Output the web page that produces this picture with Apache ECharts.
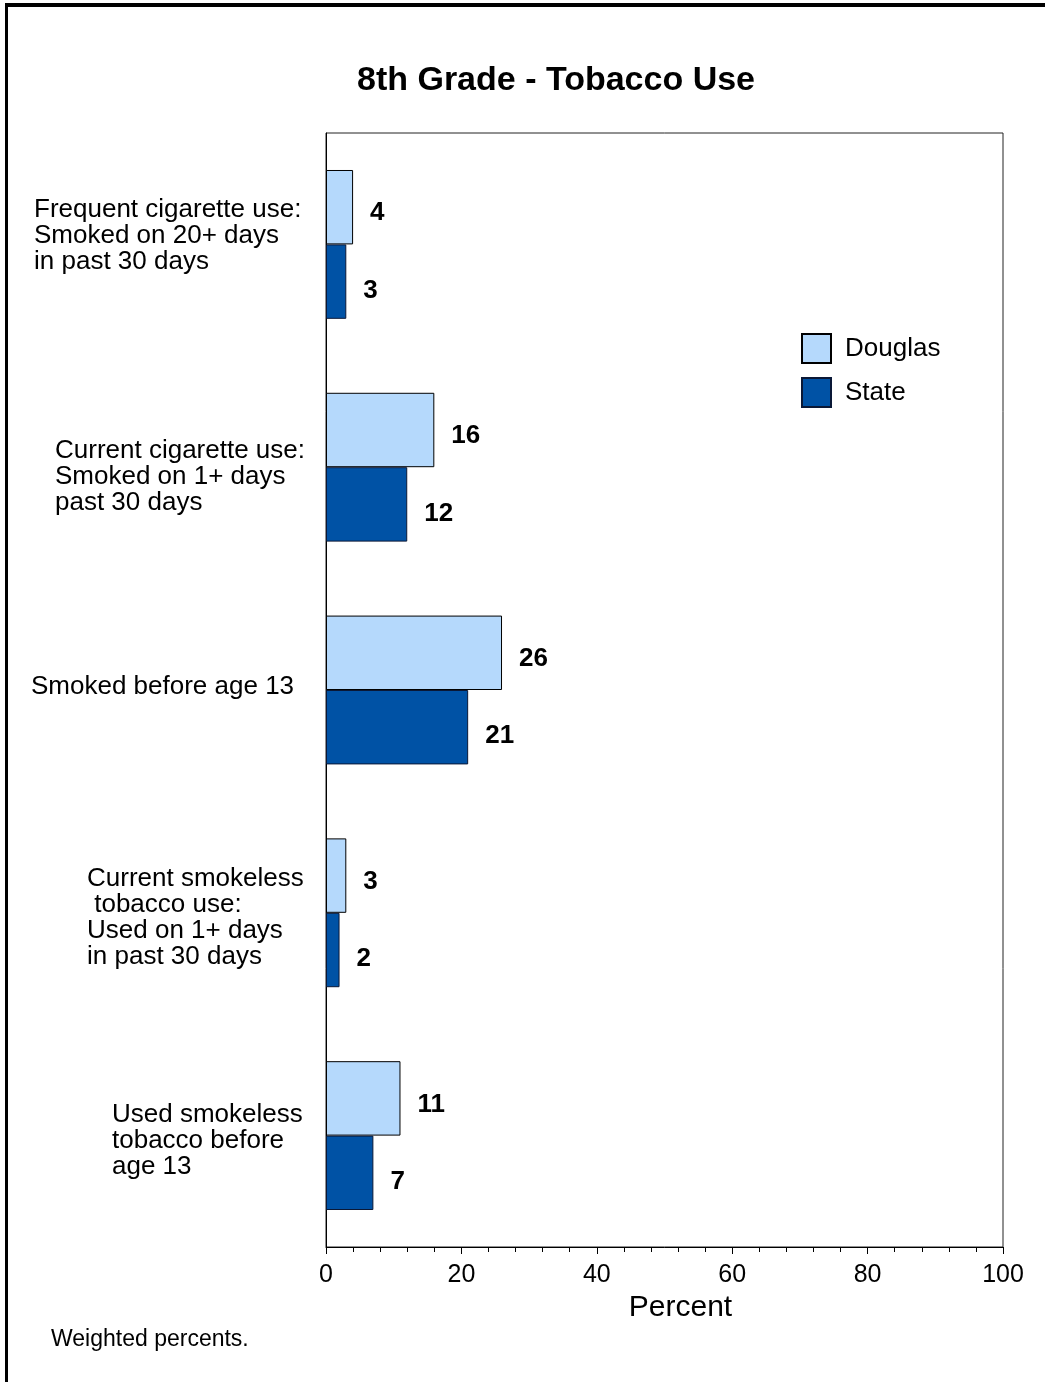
<!DOCTYPE html>
<html>
<head>
<meta charset="utf-8">
<script src="https://cdn.jsdelivr.net/npm/echarts@6/dist/echarts.min.js"></script>
<style>
  html, body { margin: 0; padding: 0; background: #fff; }
  #frame { position: absolute; left: 5px; top: 3px; width: 1045px; height: 1376px;
           border-top: 4px solid #000; border-left: 3px solid #000; border-bottom: 2px solid #ddd; }
  #chart { position: absolute; left: 0; top: 0; width: 1045px; height: 1382px; }
</style>
</head>
<body>
<div id="frame"></div>
<div id="chart"></div>
<script>
const categories = [
  'Frequent cigarette use:\nSmoked on 20+ days\nin past 30 days',
  'Current cigarette use:\nSmoked on 1+ days\npast 30 days',
  'Smoked before age 13',
  'Current smokeless\n tobacco use:\nUsed on 1+ days\nin past 30 days',
  'Used smokeless\ntobacco before\nage 13'
];
const seriesNames = ['Douglas', 'State'];
const douglasValues = [4, 16, 26, 3, 11];
const stateValues = [3, 12, 21, 2, 7];
const titleText = '8th Grade - Tobacco Use';
const axisTitle = 'Percent';
const footnote = 'Weighted percents.';

// label layout helpers (text placement only): block width and vertical nudge
const labelBlockWidth = [276, 255, 279, 223, 198];
const labelNudge = [-9, 10, -3, 5, 5];

const FONT = '"Liberation Sans", Arial, sans-serif';
const chart = echarts.init(document.getElementById('chart'), null, { renderer: 'canvas' });

const rich = {};
labelBlockWidth.forEach((w, i) => {
  rich['c' + i] = { width: w, align: 'left', fontFamily: FONT, fontSize: 26, lineHeight: 26, color: '#000' };
});
labelNudge.forEach((d, i) => {
  rich['s' + i] = { height: Math.abs(d) * 2, lineHeight: Math.abs(d) * 2, fontSize: 2 };
});

function catLabel(value, index) {
  const lines = String(value).split('\n').map(l => '{c' + index + '|' + l + '}');
  const d = labelNudge[index];
  if (d < 0) lines.push('{s' + index + '| }');
  else if (d > 0) lines.unshift('{s' + index + '| }');
  return lines.join('\n');
}

const option = {
  backgroundColor: 'transparent',
  animation: false,
  textStyle: { fontFamily: FONT, color: '#000' },
  title: [
    { text: titleText, left: 357, top: 64, padding: 0,
      textStyle: { fontFamily: FONT, fontSize: 34, fontWeight: 'bold', color: '#000' } },
    { text: footnote, left: 51, top: 1328, padding: 0,
      textStyle: { fontFamily: FONT, fontSize: 23, fontWeight: 'normal', color: '#000' } }
  ],
  legend: {
    orient: 'vertical', left: 801, top: 333, padding: 0,
    itemWidth: 29, itemHeight: 29, itemGap: 13,
    icon: 'rect',
    textStyle: { fontFamily: FONT, fontSize: 26, color: '#000', padding: [0, 0, 0, 9] },
    data: seriesNames
  },
  grid: {
    left: 326, right: 42, top: 133, bottom: 135,
    show: true, borderColor: '#222', borderWidth: 1, backgroundColor: 'transparent',
    outerBoundsMode: 'none'
  },
  xAxis: {
    type: 'value', min: 0, max: 100, interval: 20,
    name: axisTitle, nameLocation: 'middle', nameGap: 44,
    nameTextStyle: { fontFamily: FONT, fontSize: 30, color: '#000', padding: [0, 0, 0, 32] },
    axisLine: { show: true, lineStyle: { color: '#000', width: 1 } },
    axisTick: { show: true, length: 7, lineStyle: { color: '#000' } },
    minorTick: { show: true, splitNumber: 5, length: 5, lineStyle: { color: '#000' } },
    splitLine: { show: false },
    axisLabel: { fontFamily: FONT, fontSize: 25, color: '#000', margin: 16 }
  },
  yAxis: {
    type: 'category', inverse: true,
    data: categories,
    axisLine: { show: true, lineStyle: { color: '#000', width: 1 } },
    axisTick: { show: false },
    splitLine: { show: false },
    axisLabel: { fontFamily: FONT, fontSize: 26, lineHeight: 26, color: '#000',
                 margin: 16, interval: 0, formatter: catLabel, rich: rich }
  },
  series: [
    { name: seriesNames[0], type: 'bar', data: douglasValues,
      barGap: '0%', barCategoryGap: '33.2%',
      itemStyle: { color: '#B5D9FC', borderColor: '#000', borderWidth: 1 },
      label: { show: true, position: 'right', distance: 17, offset: [0, 6], fontFamily: FONT,
               fontSize: 26, fontWeight: 'bold', color: '#000' } },
    { name: seriesNames[1], type: 'bar', data: stateValues,
      barGap: '0%', barCategoryGap: '33.2%',
      itemStyle: { color: '#0052A5', borderColor: '#0a1836', borderWidth: 1 },
      label: { show: true, position: 'right', distance: 17, offset: [0, 9], fontFamily: FONT,
               fontSize: 26, fontWeight: 'bold', color: '#000' } }
  ]
};
chart.setOption(option);
</script>
</body>
</html>
